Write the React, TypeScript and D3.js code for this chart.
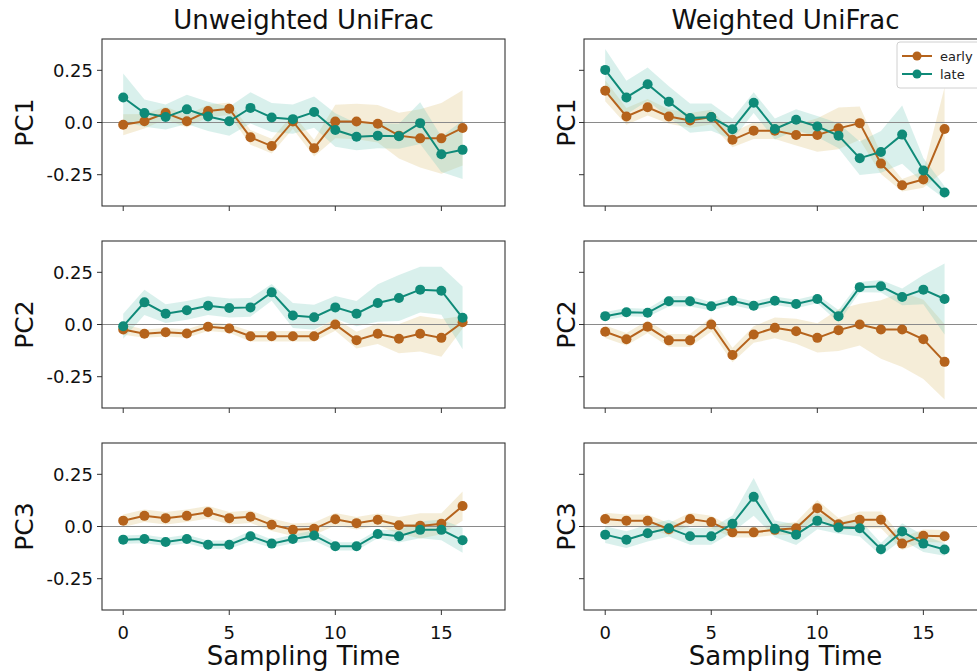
import React from "react";
import * as d3 from "d3";

const times = d3.range(0, 17);
const columnTitles = ["Unweighted UniFrac", "Weighted UniFrac"];
const rowLabels = ["PC1", "PC2", "PC3"];
const yTicks = [0.25, 0.0, -0.25];
const yTickLabels = ["0.25", "0.0", "-0.25"];
const xTicks = [0, 5, 10, 15];
const seriesNames = ["early", "late"];

// Unweighted PC1
const uPC1Early = [-0.011,0.006,0.045,0.006,0.055,0.066,-0.071,-0.113,0.005,-0.123,0.005,0.005,-0.006,-0.063,-0.076,-0.076,-0.026];
const uPC1EarlyErr = [0.05,0.035,0.03,0.03,0.03,0.03,0.035,0.035,0.035,0.04,0.08,0.085,0.09,0.11,0.14,0.17,0.18];
const uPC1Late = [0.120,0.045,0.026,0.063,0.029,0.006,0.070,0.024,0.016,0.050,-0.036,-0.068,-0.063,-0.066,-0.003,-0.152,-0.131];
const uPC1LateErr = [0.115,0.065,0.06,0.07,0.07,0.07,0.075,0.07,0.07,0.075,0.08,0.065,0.06,0.06,0.1,0.085,0.14];
// Weighted PC1
const wPC1Early = [0.152,0.029,0.073,0.029,0.010,0.026,-0.083,-0.039,-0.039,-0.060,-0.060,-0.028,-0.003,-0.197,-0.301,-0.273,-0.031];
const wPC1EarlyErr = [0.05,0.04,0.04,0.035,0.035,0.035,0.035,0.04,0.04,0.05,0.08,0.1,0.08,0.05,0.03,0.04,0.2];
const wPC1Late = [0.252,0.120,0.183,0.099,0.021,0.026,-0.032,0.095,-0.031,0.013,-0.019,-0.063,-0.171,-0.141,-0.058,-0.230,-0.335];
const wPC1LateErr = [0.10,0.08,0.08,0.075,0.07,0.065,0.05,0.05,0.05,0.05,0.05,0.06,0.08,0.1,0.14,0.06,0.03];
// Unweighted PC2
const uPC2Early = [-0.024,-0.044,-0.037,-0.043,-0.011,-0.019,-0.056,-0.056,-0.056,-0.056,0.000,-0.075,-0.044,-0.068,-0.044,-0.064,0.011];
const uPC2EarlyErr = [0.025,0.02,0.02,0.02,0.02,0.02,0.025,0.025,0.025,0.025,0.03,0.04,0.05,0.07,0.085,0.09,0.03];
const uPC2Late = [-0.008,0.106,0.052,0.068,0.090,0.079,0.082,0.154,0.043,0.035,0.082,0.052,0.103,0.127,0.167,0.162,0.032];
const uPC2LateErr = [0.06,0.06,0.045,0.045,0.045,0.045,0.045,0.04,0.06,0.06,0.055,0.06,0.09,0.11,0.11,0.115,0.15];
// Weighted PC2
const wPC2Early = [-0.035,-0.071,-0.011,-0.076,-0.076,0.000,-0.146,-0.048,-0.016,-0.032,-0.064,-0.027,0.000,-0.024,-0.024,-0.071,-0.179];
const wPC2EarlyErr = [0.03,0.03,0.03,0.03,0.03,0.035,0.035,0.04,0.05,0.06,0.07,0.1,0.1,0.14,0.18,0.19,0.18];
const wPC2Late = [0.040,0.059,0.056,0.111,0.111,0.087,0.114,0.090,0.114,0.098,0.122,0.040,0.179,0.183,0.132,0.167,0.122];
const wPC2LateErr = [0.02,0.02,0.02,0.025,0.025,0.02,0.02,0.02,0.02,0.02,0.02,0.03,0.025,0.03,0.04,0.07,0.17];
// Unweighted PC3
const uPC3Early = [0.028,0.051,0.040,0.051,0.068,0.040,0.047,0.008,-0.016,-0.011,0.035,0.016,0.032,0.006,0.003,0.013,0.098];
const uPC3EarlyErr = [0.03,0.03,0.03,0.03,0.03,0.03,0.03,0.03,0.03,0.03,0.03,0.03,0.03,0.04,0.06,0.05,0.07];
const uPC3Late = [-0.063,-0.060,-0.074,-0.060,-0.087,-0.087,-0.047,-0.082,-0.060,-0.043,-0.095,-0.095,-0.036,-0.047,-0.016,-0.016,-0.066];
const uPC3LateErr = [0.02,0.02,0.02,0.02,0.02,0.02,0.025,0.02,0.02,0.025,0.02,0.02,0.02,0.03,0.04,0.05,0.06];
// Weighted PC3
const wPC3Early = [0.036,0.028,0.027,-0.013,0.036,0.021,-0.028,-0.028,-0.016,-0.008,0.087,0.011,0.032,0.032,-0.082,-0.044,-0.047];
const wPC3EarlyErr = [0.03,0.03,0.03,0.03,0.03,0.03,0.025,0.025,0.025,0.03,0.04,0.03,0.04,0.04,0.03,0.03,0.03];
const wPC3Late = [-0.039,-0.063,-0.032,-0.008,-0.047,-0.047,0.013,0.142,-0.011,-0.039,0.027,-0.005,-0.008,-0.109,-0.024,-0.082,-0.110];
const wPC3LateErr = [0.04,0.04,0.04,0.04,0.04,0.04,0.04,0.09,0.04,0.05,0.04,0.03,0.04,0.03,0.04,0.04,0.03];

const panels = [
  [
    { early: uPC1Early, earlyErr: uPC1EarlyErr, late: uPC1Late, lateErr: uPC1LateErr },
    { early: wPC1Early, earlyErr: wPC1EarlyErr, late: wPC1Late, lateErr: wPC1LateErr },
  ],
  [
    { early: uPC2Early, earlyErr: uPC2EarlyErr, late: uPC2Late, lateErr: uPC2LateErr },
    { early: wPC2Early, earlyErr: wPC2EarlyErr, late: wPC2Late, lateErr: wPC2LateErr },
  ],
  [
    { early: uPC3Early, earlyErr: uPC3EarlyErr, late: uPC3Late, lateErr: uPC3LateErr },
    { early: wPC3Early, earlyErr: wPC3EarlyErr, late: wPC3Late, lateErr: wPC3LateErr },
  ],
];

const W = 977;
const H = 672;
const colLeft = [102, 584];
const plotW = 403;
const rowTop = [39, 241, 443];
const plotH = 167;
const FONT = "'DejaVu Sans', sans-serif";

const lineColor = { early: "#b5631c", late: "#0f8a78" };
const bandColor = { early: "#dfc27d", late: "#80cdc1" };

function Panel({ row, col }: { row: number; col: number }) {
  const x0 = colLeft[col];
  const y0 = rowTop[row];
  const xs = d3.scaleLinear().domain([-1, 18]).range([x0, x0 + plotW]);
  const ys = d3.scaleLinear().domain([-0.4, 0.4]).range([y0 + plotH, y0]);
  const p = panels[row][col];
  const series = [
    { key: "early", vals: p.early, err: p.earlyErr },
    { key: "late", vals: p.late, err: p.lateErr },
  ];
  const area = d3
    .area<number>()
    .x((_, i) => xs(times[i]))
    .y0((d, i) => ys(d - 0))
    .y1((d) => ys(d));
  const line = d3
    .line<number>()
    .x((_, i) => xs(times[i]))
    .y((d) => ys(d));
  return (
    <g>
      {series.map((s) => {
        const bandArea = d3
          .area<number>()
          .x((_, i) => xs(times[i]))
          .y0((d, i) => ys(d - s.err[i]))
          .y1((d, i) => ys(d + s.err[i]));
        return (
          <path
            key={"b" + s.key}
            d={bandArea(s.vals) || ""}
            fill={(bandColor as any)[s.key]}
            fillOpacity={0.3}
            stroke="none"
          />
        );
      })}
      <line x1={x0} x2={x0 + plotW} y1={ys(0)} y2={ys(0)} stroke="#8a8a8a" strokeWidth={1.1} />
      {series.map((s) => (
        <g key={"l" + s.key}>
          <path d={line(s.vals) || ""} fill="none" stroke={(lineColor as any)[s.key]} strokeWidth={2} />
          {s.vals.map((v, i) => (
            <circle key={i} cx={xs(times[i])} cy={ys(v)} r={5} fill={(lineColor as any)[s.key]} />
          ))}
        </g>
      ))}
      <rect x={x0} y={y0} width={plotW} height={plotH} fill="none" stroke="#333" strokeWidth={1.1} />
      {yTicks.map((t, i) => (
        <g key={"yt" + i}>
          <line x1={x0 - 5} x2={x0} y1={ys(t)} y2={ys(t)} stroke="#333" strokeWidth={1} />
          {col === 0 && (
            <text x={x0 - 9} y={ys(t)} dy="0.35em" textAnchor="end" fontFamily={FONT} fontSize={18} fill="#111">
              {yTickLabels[i]}
            </text>
          )}
        </g>
      ))}
      {xTicks.map((t) => (
        <g key={"xt" + t}>
          <line x1={xs(t)} x2={xs(t)} y1={y0 + plotH} y2={y0 + plotH + 5} stroke="#333" strokeWidth={1} />
          {row === 2 && (
            <text x={xs(t)} y={y0 + plotH + 29} textAnchor="middle" fontFamily={FONT} fontSize={18} fill="#111">
              {t}
            </text>
          )}
        </g>
      ))}
      <text
        transform={`translate(${col === 0 ? 33 : 575},${y0 + plotH / 2}) rotate(-90)`}
        textAnchor="middle"
        fontFamily={FONT}
        fontSize={25}
        fill="#111"
      >
        {rowLabels[row]}
      </text>
      {row === 0 && (
        <text x={x0 + plotW / 2} y={29} textAnchor="middle" fontFamily={FONT} fontSize={26} fill="#111">
          {columnTitles[col]}
        </text>
      )}
      {row === 2 && (
        <text x={x0 + plotW / 2} y={665} textAnchor="middle" fontFamily={FONT} fontSize={26} fill="#111">
          Sampling Time
        </text>
      )}
    </g>
  );
}

function Legend() {
  const lx = 897;
  const ly = 42;
  return (
    <g>
      <rect x={lx} y={ly} width={90} height={46} rx={3} fill="#fff" fillOpacity={0.85} stroke="#d0d0d0" strokeWidth={1} />
      {seriesNames.map((n, i) => {
        const y = ly + 14 + i * 18;
        return (
          <g key={n}>
            <line x1={lx + 5} x2={lx + 35} y1={y} y2={y} stroke={(lineColor as any)[n]} strokeWidth={2} />
            <circle cx={lx + 20} cy={y} r={4.5} fill={(lineColor as any)[n]} />
            <text x={lx + 43} y={y} dy="0.35em" fontFamily={FONT} fontSize={13} fill="#222">
              {n}
            </text>
          </g>
        );
      })}
    </g>
  );
}

export default function App() {
  return (
    <svg
      width={W}
      height={H}
      style={{ position: "absolute", left: 0, top: 0, background: "#fff" }}
    >
      <rect x={0} y={0} width={W} height={H} fill="#fff" />
      {[0, 1, 2].map((r) => [0, 1].map((c) => <Panel key={r + "-" + c} row={r} col={c} />))}
      <Legend />
    </svg>
  );
}
